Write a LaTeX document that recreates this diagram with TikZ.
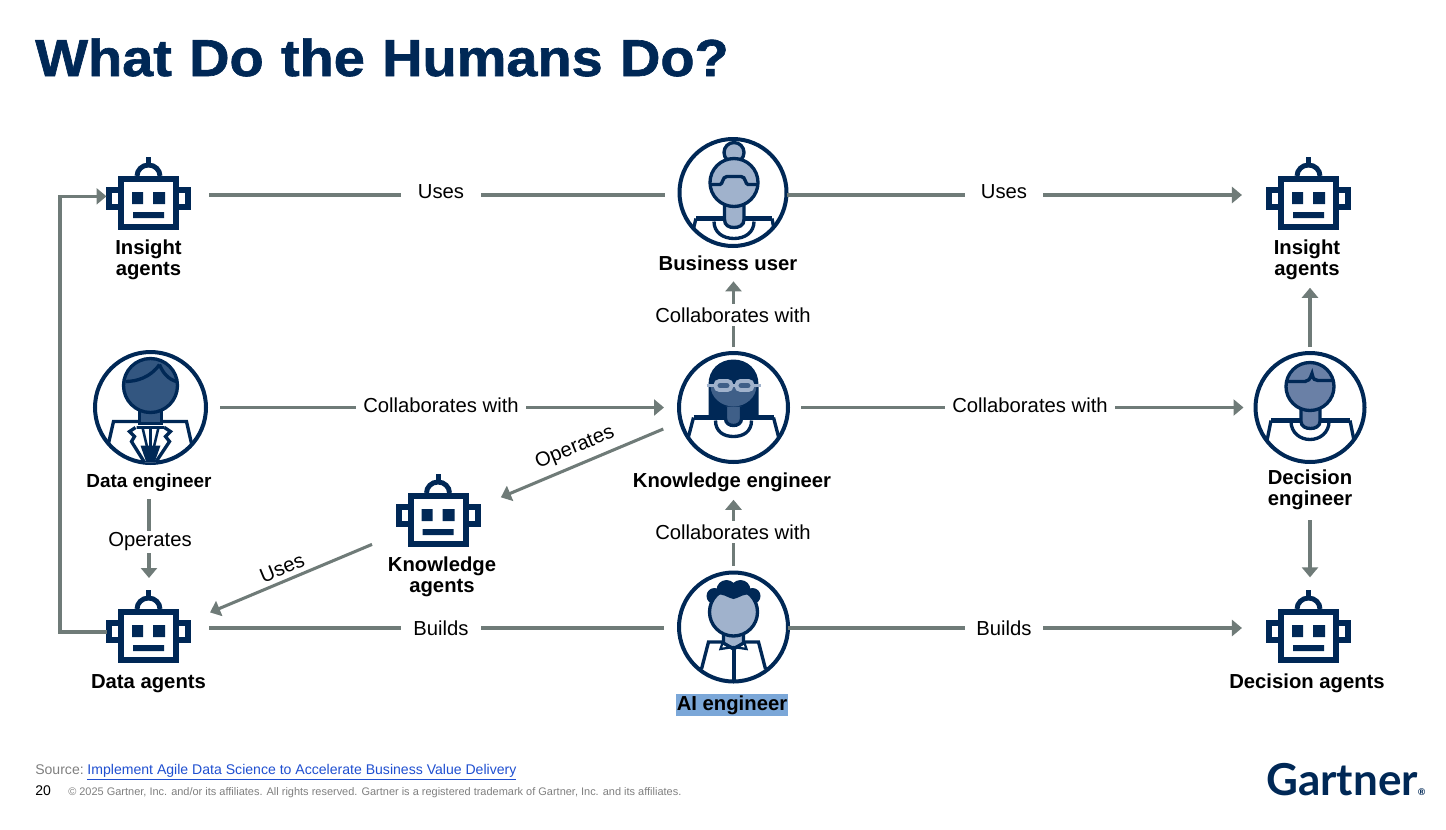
\documentclass[tikz,border=0pt]{standalone}
\usepackage{fontspec}
\setmainfont{Liberation Sans}
\newfontfamily\headfont{Liberation Sans}[BoldFeatures={FakeBold=1.2},WordSpace=1.115]
\newfontfamily\logofont{Lato}
\usetikzlibrary{arrows.meta}
\definecolor{navy}{HTML}{002856}
\definecolor{flowgrey}{HTML}{6F7B78}
\definecolor{paleblue}{HTML}{A0B2CC}
\definecolor{midblue}{HTML}{3F5F88}
\definecolor{deepblue}{HTML}{335680}
\definecolor{slateblue}{HTML}{6A80A6}
\definecolor{hilite}{HTML}{7BA7D8}
\definecolor{linkblue}{HTML}{1F4FD0}
\definecolor{notegrey}{HTML}{7F7F7F}
\newcommand{\lblsize}{\fontsize{15.2}{15.75}\selectfont}
\tikzset{
  robotbox/.style={minimum width=63pt,minimum height=57pt,inner sep=0pt,outer sep=0pt},
  personbox/.style={circle,draw=navy,line width=3pt,fill=white,inner sep=0pt,outer sep=0pt,minimum size=#1},
  who/.style={font=\lblsize\bfseries,align=center,inner sep=0pt,text=black},
  flow/.style={draw=flowgrey,line width=2.3pt},
  flowfat/.style={draw=flowgrey,line width=3pt},
  tip/.style={-{Triangle[length=7.5pt,width=12pt]}},
  verb/.style={font=\lblsize,fill=white,inner xsep=0pt,inner ysep=1pt,text=black,minimum height=16pt},
  body/.style={draw=navy,line width=2.5pt,line join=miter},
  robot/.pic={
    \draw[navy,line width=4.5pt,fill=white] (-27.5,-16) rectangle (27.5,32);
    \fill[navy] (-16.5,-3) rectangle (-5.5,9) (4.5,-3) rectangle (16.5,9) (-15.5,17) rectangle (15.5,23);
    \draw[navy,line width=4.5pt] (-30,-5) -- (-39.5,-5) -- (-39.5,12) -- (-30,12);
    \draw[navy,line width=4.5pt] (30,-5) -- (39.5,-5) -- (39.5,12) -- (30,12);
    \draw[navy,line width=3.7pt] (-11.5,-19) .. controls (-11.5,-25) and (-6.5,-30) .. (0,-30) .. controls (6.5,-30) and (11.5,-25) .. (11.5,-19);
    \fill[navy] (-2.5,-38) rectangle (2.5,-29);
  },
  bizperson/.pic={
    \begin{scope}
      \clip (0,0) circle (54);
      \draw[body] (-41,42) -- (-37,26);
      \draw[body] (42,42) -- (39,26);
      \draw[body] (-19,29) .. controls (-19,40) and (-10,46) .. (1,46) .. controls (12,46) and (21,40) .. (21,29);
    \end{scope}
    \draw[navy,line width=3.7pt] (-37,26) -- (39,26);
    \draw[body,fill=paleblue] (-8.5,10) -- (-8.5,27) .. controls (-8.5,33) and (-4,35) .. (1,35) .. controls (6,35) and (11,33) .. (11,27) -- (11,10) -- cycle;
    \draw[body,fill=paleblue] (1,-40) circle (10);
    \draw[body,fill=paleblue] (1,-10) circle (24);
    \draw[body] (-23,-8) -- (-13,-8) .. controls (-10,-8) and (-11,-16) .. (-6,-16) -- (8,-16) .. controls (13,-16) and (12,-8) .. (15,-8) -- (24,-8);
  },
  dataperson/.pic={
    \begin{scope}
      \clip (0,0) circle (55);
      \draw[body] (-42,36) -- (-37,14) -- (36,14) -- (41,36);
      \draw[body,fill=white] (-15,20) -- (-21,24) -- (-16,29) -- (-19,34) -- (-4,58) -- (3,58) -- (19,34) -- (15,29) -- (20,24) -- (14,20);
      \draw[navy,line width=1.9pt] (-8,20) -- (0,54) (8,20) -- (0,54) (0,20) -- (0,54) (-14,20) -- (14,20);
      \fill[navy] (-10,38) -- (10,38) -- (3,58) -- (-3,58) -- cycle;
    \end{scope}
    \draw[body,fill=deepblue] (-11,0) rectangle (11,16);
    \draw[body,fill=deepblue] (0,-22) circle (27);
    \draw[body] (-25,-26) .. controls (-14,-26) and (0,-30) .. (9,-43);
    \draw[body] (9,-43) .. controls (12,-35) and (18,-28) .. (26,-26);
  },
  knowperson/.pic={
    \begin{scope}
      \clip (0,0) circle (53);
      \draw[body] (-46,33) -- (-40,10);
      \draw[body] (46,33) -- (40,10);
      \draw[body] (-18,13) .. controls (-18,24) and (-10,29) .. (0,29) .. controls (10,29) and (18,24) .. (18,13);
    \end{scope}
    \fill[navy] (-25,10) -- (-25,-23) .. controls (-25,-38) and (-14,-48) .. (0,-48) .. controls (14,-48) and (25,-38) .. (25,-23) -- (25,10) -- cycle;
    \draw[navy,line width=3.4pt] (-40,10) -- (40,10);
    \fill[midblue] (-23,-22) .. controls (-23,-10) and (-12,-1) .. (0,-1) .. controls (12,-1) and (23,-10) .. (23,-22) -- cycle;
    \draw[body,fill=midblue] (-8,-1) -- (-8,11) .. controls (-8,16) and (-4,18) .. (0,18) .. controls (4,18) and (8,16) .. (8,11) -- (8,-1);
    \draw[paleblue,line width=2.9pt] (-27,-22) -- (27,-22);
    \draw[paleblue,line width=2.9pt,fill=midblue,rounded corners=3pt] (-18,-26.5) rectangle (-2,-17.5);
    \draw[paleblue,line width=2.9pt,fill=midblue,rounded corners=3pt] (3,-26.5) rectangle (19,-17.5);
  },
  aiperson/.pic={
    \begin{scope}
      \clip (0,0) circle (54);
      \draw[body] (-32,42) -- (-25,15) -- (25,15) -- (32,42);
      \draw[navy,line width=3pt] (0,20) -- (0,56);
    \end{scope}
    \fill[navy] (-19,-31) circle (8) (-7,-37) circle (10) (7,-37) circle (10) (19,-31) circle (8);
    \draw[body,fill=paleblue] (-10,3) -- (-10,16) -- (0,22) -- (10,16) -- (10,3) -- cycle;
    \draw[body,fill=paleblue] (0,-15) circle (24);
    \fill[navy] (-18,-32) .. controls (-10,-34) and (-8,-30) .. (0,-28) .. controls (8,-30) and (10,-34) .. (18,-32) -- (14,-42) -- (-14,-42) -- cycle;
    \draw[navy,line width=1.7pt] (-13,22) -- (-11,16) -- (0,21) -- (11,16) -- (13,22) -- (0,20) -- cycle;
  },
  decidperson/.pic={
    \begin{scope}
      \clip (0,0) circle (53);
      \draw[body] (-43,33) -- (-39,13);
      \draw[body] (44,33) -- (40,13);
      \draw[body] (-19,14) .. controls (-19,25) and (-10,32) .. (0,32) .. controls (10,32) and (19,25) .. (19,14);
    \end{scope}
    \draw[navy,line width=3.4pt] (-39,13) -- (40,13);
    \draw[body,fill=slateblue] (-9,0) -- (-9,14) .. controls (-9,19) and (-4,21) .. (0.5,21) .. controls (5,21) and (10,19) .. (10,14) -- (10,0) -- cycle;
    \draw[body,fill=slateblue] (0,-21) circle (24);
    \draw[body] (-24,-26) -- (-5,-26) .. controls (-2,-26) and (0,-28) .. (2,-34) .. controls (3,-28) and (5,-27) .. (8,-27) -- (24,-27);
  },
}
\begin{document}
\begin{tikzpicture}[x=0.75pt,y=-0.75pt]
  \useasboundingbox (0,0) rectangle (1446,829);

  \node[font=\fontsize{39}{44}\selectfont\headfont\bfseries,text=navy,anchor=base west,inner sep=0pt,xscale=1.075] (heading) at (35,76) {What Do the Humans Do?};

  \foreach \nm/\xx/\yy in {insightL/148.5/195,insightR/1308.5/195,kagent/438/512,dataA/148.5/628,decideA/1308.5/628}{
    \node[robotbox] (\nm) at (\xx,\yy) {};
    \path (\nm.center) pic {robot};
  }

  \node[personbox=80.25pt] (biz) at (733,192.5) {};
  \path (biz.center) pic {bizperson};
  \node[personbox=83.25pt] (dataeng) at (150.5,407.5) {};
  \path (dataeng.center) pic {dataperson};
  \node[personbox=81.75pt] (know) at (733.5,407.5) {};
  \path (know.center) pic {knowperson};
  \node[personbox=81.75pt] (decide) at (1310,407.5) {};
  \path (decide.center) pic {decidperson};
  \node[personbox=81.75pt] (aieng) at (733.5,627) {};
  \path (aieng.center) pic {aiperson};

  \node[who] (insightLname) at (148.5,259.5) {Insight\\agents};
  \node[who] (insightRname) at (1307,259.5) {Insight\\agents};
  \node[who] (bizname) at (728,263) {Business user};
  \node[who,font=\fontsize{14.2}{15.75}\selectfont\bfseries] (dataengname) at (149,483) {Data engineer};
  \node[who] (knowname) at (732,482) {Knowledge engineer};
  \node[who] (kagentname) at (442,576.5) {Knowledge\\agents};
  \node[who] (decidename) at (1310,490) {Decision\\engineer};
  \node[who] (dataAname) at (148.5,683.5) {Data agents};
  \node[who] (decideAname) at (1307,683) {Decision agents};
  \node[who,fill=hilite,inner xsep=0.5pt,inner ysep=0.8pt] (ainame) at (732,705) {AI engineer};

  \draw[flowfat,shorten <=13.9pt,shorten >=11.25pt] (insightL.east) -- (insightL.east -| biz.west);
  \draw[flow,tip,shorten >=18.4pt] (insightR.west -| biz.east) -- (insightR.west);
  \draw[flow,tip,shorten <=10.5pt,shorten >=11.25pt] (dataeng.east) -- (know.west);
  \draw[flow,tip,shorten <=9.75pt,shorten >=9pt] (know.east) -- (decide.west);
  \draw[flowfat,shorten <=13.9pt,shorten >=11.25pt] (dataA.east) -- (dataA.east -| aieng.west);
  \draw[flow,tip,shorten >=18.4pt] (decideA.west -| aieng.east) -- (decideA.west);
  \draw[flow,tip,shorten <=4.5pt,shorten >=8pt] (know.north) -- (bizname.south -| know.north);
  \draw[flow,tip,shorten <=5pt,shorten >=6pt] (aieng.north) -- (knowname.south -| aieng.north);
  \draw[flow,tip,shorten <=4.5pt,shorten >=6pt] (decide.north) -- (insightRname.south -| decide.north);
  \draw[flow,tip,shorten <=7.5pt,shorten >=9.5pt] (decidename.south) -- (decidename.south |- decideA.north);
  \draw[flow,tip,shorten <=5.5pt,shorten >=9pt] (dataengname.south) -- (dataengname.south |- dataA.north);
  \draw[flow,tip,shorten <=14.3pt,shorten >=17pt] (know.195) -- (kagent.8.5);
  \draw[flow,tip,shorten <=19.5pt,shorten >=15.9pt] (kagent.208.7) -- (dataA.10.8);
  \draw[flow,tip] ([yshift=-3pt]dataA.west) -- ++(-46.5,0) |- ([yshift=-1pt]insightL.west);

  \node[verb,minimum width=60pt] (usesA) at (441,192) {Uses};
  \node[verb,minimum width=58pt] (usesB) at (1004,192) {Uses};
  \node[verb,minimum width=127pt] (collabA) at (441,405) {Collaborates with};
  \node[verb,minimum width=127pt] (collabB) at (1030,405) {Collaborates with};
  \node[verb] (collabC) at (733,315) {Collaborates with};
  \node[verb] (collabD) at (733,532) {Collaborates with};
  \node[verb,inner xsep=3pt] (opsA) at (150,542) {Operates};
  \node[verb,minimum width=60pt] (buildsA) at (441,628) {Builds};
  \node[verb,minimum width=58pt] (buildsB) at (1004,628) {Builds};
  \node[font=\lblsize,rotate=22.5,inner sep=0pt,text=black] (opsB) at (575,448) {Operates};
  \node[font=\lblsize,rotate=22.5,inner sep=0pt,text=black] (usesC) at (282,568) {Uses};

  \node[anchor=base west,inner sep=0pt,font=\fontsize{10.55}{12}\selectfont,text=notegrey] (source) at (35,774) {Source:\hspace{2.8pt}\textcolor{linkblue}{\underline{Implement Agile Data Science to Accelerate Business Value Delivery}}};
  \node[anchor=base west,inner sep=0pt,font=\fontsize{10.5}{12}\selectfont,text=black] (pageno) at (35,795) {20};
  \node[anchor=base west,inner sep=0pt,font=\fontsize{8.23}{9}\selectfont,text=notegrey] (legal) at (68,795) {© 2025 Gartner, Inc. and/or its affiliates. All rights reserved. Gartner is a registered trademark of Gartner, Inc. and its affiliates.};
  \node[anchor=base west,inner sep=0pt,font=\fontsize{33}{35}\selectfont\logofont\bfseries,text=navy] (logo) at (1266,795) {Gartner\raisebox{0pt}{\fontsize{7}{7}\selectfont ®}};
\end{tikzpicture}
\end{document}
